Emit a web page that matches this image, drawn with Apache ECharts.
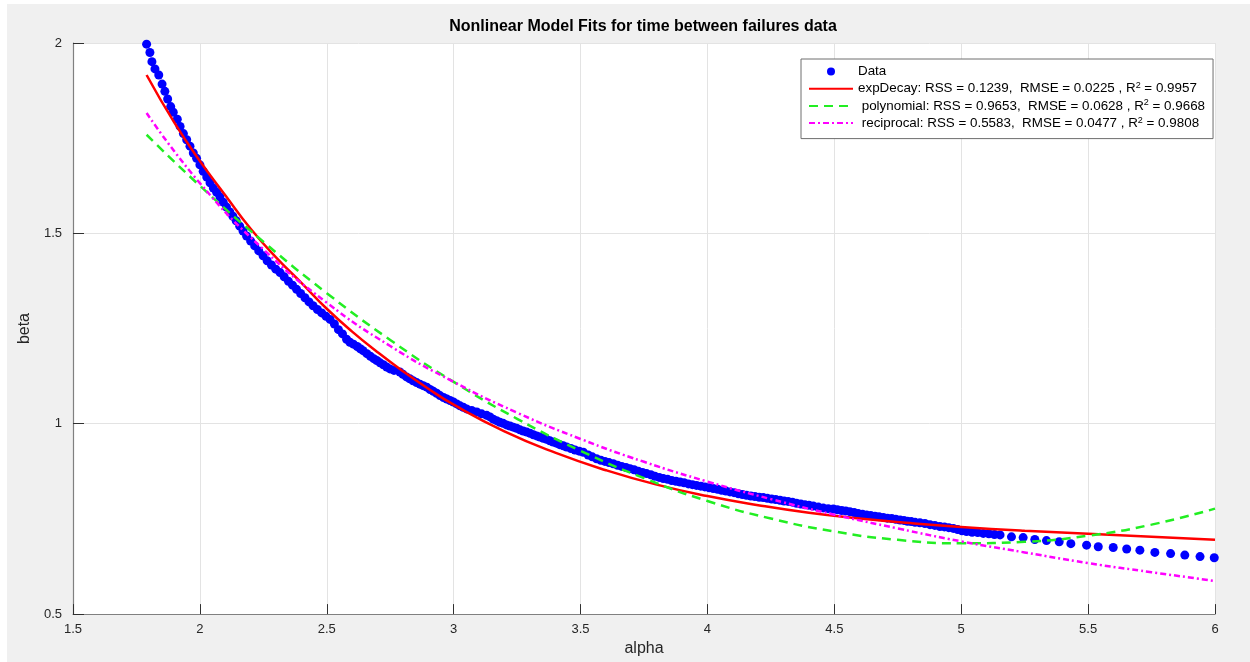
<!DOCTYPE html>
<html>
<head>
<meta charset="utf-8">
<script src="https://cdn.jsdelivr.net/npm/echarts@6/dist/echarts.min.js"></script>
<style>
html,body{margin:0;padding:0;background:#ffffff;}
#wrap{position:absolute;left:7px;top:4px;width:1243px;height:658px;background:#f0f0f0;}
#chart{width:1243px;height:658px;}
</style>
</head>
<body>
<div id="wrap"><div id="chart"></div></div>
<script>
// ---- Data ----
const titleText = 'Nonlinear Model Fits for time between failures data';
const xTickLabels = ['1.5','2','2.5','3','3.5','4','4.5','5','5.5','6'];
const yTickLabels = ['0.5','1','1.5','2'];

const dataAlpha = [
1.790,1.803,1.811,1.823,1.838,1.851,1.862,1.873,1.885,1.895,1.911,1.922,1.935,1.948,1.961,1.974,1.987,2.000,2.013,2.027,
2.040,2.053,2.066,2.079,2.092,2.105,2.118,2.130,2.143,2.157,2.170,2.184,2.200,2.216,2.232,2.249,2.265,2.282,2.299,2.316,
2.332,2.349,2.365,2.381,2.397,2.414,2.430,2.446,2.463,2.480,2.497,2.513,2.530,2.546,2.562,2.578,2.591,2.605,2.620,2.632,
2.643,2.658,2.672,2.685,2.697,2.710,2.723,2.736,2.749,2.765,2.788,2.800,2.814,2.827,2.840,2.854,2.867,2.880,2.894,2.907,
2.920,2.933,2.946,2.960,2.973,2.986,2.999,3.012,3.025,3.038,3.051,3.071,3.091,3.110,3.130,3.143,3.156,3.169,3.182,3.195,
3.208,3.222,3.235,3.248,3.261,3.274,3.288,3.301,3.314,3.327,3.340,3.353,3.366,3.379,3.392,3.405,3.418,3.432,3.445,3.462,
3.478,3.495,3.511,3.530,3.546,3.563,3.580,3.596,3.612,3.629,3.646,3.662,3.679,3.695,3.711,3.728,3.744,3.760,3.777,3.793,
3.810,3.826,3.843,3.859,3.876,3.892,3.908,3.925,3.941,3.957,3.974,3.990,4.007,4.023,4.040,4.056,4.073,4.089,4.105,4.122,
4.138,4.154,4.171,4.187,4.204,4.220,4.236,4.253,4.269,4.286,4.302,4.318,4.335,4.351,4.368,4.384,4.400,4.417,4.437,4.456,
4.476,4.496,4.512,4.529,4.545,4.561,4.578,4.594,4.611,4.627,4.643,4.660,4.676,4.693,4.709,4.726,4.742,4.759,4.774,4.788,
4.803,4.818,4.837,4.857,4.877,4.896,4.916,4.934,4.951,4.969,4.986,5.003,5.021,5.043,5.065,5.087,5.109,5.131,5.153,5.198,
5.244,5.290,5.336,5.386,5.432,5.494,5.540,5.599,5.652,5.704,5.763,5.825,5.881,5.941,5.997
];
const dataBeta = [
1.997,1.975,1.951,1.932,1.916,1.892,1.873,1.853,1.833,1.818,1.800,1.781,1.762,1.746,1.729,1.711,1.697,1.680,1.663,1.648,
1.633,1.619,1.608,1.596,1.582,1.569,1.556,1.545,1.533,1.519,1.506,1.493,1.480,1.467,1.454,1.441,1.428,1.417,1.406,1.397,
1.386,1.374,1.364,1.353,1.342,1.331,1.320,1.310,1.300,1.291,1.282,1.274,1.262,1.247,1.236,1.222,1.214,1.209,1.203,1.197,
1.192,1.184,1.177,1.171,1.166,1.160,1.155,1.149,1.144,1.140,1.136,1.130,1.123,1.118,1.113,1.108,1.104,1.100,1.096,1.090,
1.085,1.080,1.074,1.069,1.065,1.061,1.057,1.052,1.047,1.043,1.039,1.035,1.031,1.026,1.022,1.018,1.012,1.008,1.004,1.001,
0.997,0.994,0.991,0.988,0.984,0.981,0.978,0.975,0.971,0.968,0.965,0.962,0.959,0.955,0.952,0.949,0.945,0.942,0.939,0.935,
0.931,0.928,0.925,0.918,0.913,0.908,0.904,0.901,0.898,0.895,0.891,0.888,0.885,0.882,0.879,0.875,0.872,0.869,0.866,0.862,
0.859,0.856,0.854,0.851,0.849,0.847,0.845,0.842,0.840,0.838,0.836,0.834,0.832,0.830,0.828,0.825,0.823,0.821,0.819,0.816,
0.814,0.812,0.810,0.809,0.807,0.806,0.804,0.802,0.801,0.799,0.797,0.796,0.794,0.791,0.789,0.787,0.786,0.784,0.781,0.779,
0.777,0.776,0.774,0.772,0.771,0.769,0.767,0.764,0.762,0.760,0.759,0.757,0.756,0.754,0.752,0.751,0.749,0.747,0.746,0.744,
0.743,0.741,0.740,0.738,0.735,0.733,0.730,0.729,0.727,0.725,0.722,0.719,0.717,0.715,0.714,0.712,0.711,0.709,0.708,0.703,
0.701,0.696,0.693,0.690,0.685,0.681,0.677,0.675,0.671,0.668,0.662,0.659,0.655,0.651,0.648
];

const expAlpha  = [1.79,1.9,2.0,2.1,2.2,2.3,2.4,2.5,2.6,2.7,2.8,2.9,3.0,3.2,3.4,3.6,3.8,4.0,4.2,4.4,4.6,4.8,5.0,5.25,5.5,5.75,6.0];
const expBeta   = [1.916,1.790,1.690,1.600,1.512,1.437,1.370,1.302,1.242,1.188,1.138,1.092,1.050,0.980,0.924,0.878,0.840,0.810,0.786,0.766,0.751,0.739,0.729,0.719,0.711,0.703,0.695];

const polyAlpha = [1.79,2.0,2.25,2.5,2.75,3.0,3.25,3.5,3.75,4.0,4.25,4.5,4.75,5.0,5.25,5.5,5.75,6.0];
const polyBeta  = [1.759,1.625,1.478,1.343,1.220,1.110,1.013,0.929,0.857,0.797,0.751,0.717,0.695,0.686,0.690,0.706,0.735,0.777];

const recAlpha  = [1.79,2.0,2.25,2.5,2.75,3.0,3.25,3.5,3.75,4.0,4.25,4.5,4.75,5.0,5.25,5.5,5.75,6.0];
const recBeta   = [1.816,1.632,1.458,1.318,1.204,1.110,1.029,0.960,0.900,0.848,0.802,0.761,0.725,0.691,0.662,0.634,0.610,0.587];

const seriesNames = [
  'Data',
  'expDecay: RSS = 0.1239,  RMSE = 0.0225 , R^2 = 0.9957',
  ' polynomial: RSS = 0.9653,  RMSE = 0.0628 , R^2 = 0.9668',
  ' reciprocal: RSS = 0.5583,  RMSE = 0.0477 , R^2 = 0.9808'
];

function pairs(xs, ys){ return xs.map((x,i)=>[x, ys[i]]); }

const FONT = "'Liberation Sans', Arial, Helvetica, sans-serif";
const chart = echarts.init(document.getElementById('chart'), null, {renderer:'canvas'});

const hiddenSym = {color: 'rgba(0,0,0,0)', borderWidth: 0, opacity: 0};

const option = {
  animation: false,
  backgroundColor: '#f0f0f0',
  textStyle: {fontFamily: FONT},
  title: {
    text: titleText,
    left: 636, top: 15, padding: 0, textAlign: 'center',
    textStyle: {fontFamily: FONT, fontSize: 16, fontWeight: 'bold', color: '#000'}
  },
  grid: {
    left: 66, top: 39, right: 35, bottom: 46,
    show: true, backgroundColor: '#ffffff', borderWidth: 0
  },
  legend: {
    orient: 'vertical',
    left: 794, top: 55,
    padding: [6, 8, 9, 7],
    itemWidth: 44, itemHeight: 8, itemGap: 3.2,
    backgroundColor: '#ffffff',
    borderColor: '#6e6e6e', borderWidth: 1,
    data: [
      {name: seriesNames[0]},
      {name: seriesNames[1], itemStyle: hiddenSym},
      {name: seriesNames[2], itemStyle: hiddenSym},
      {name: seriesNames[3], itemStyle: hiddenSym}
    ],
    formatter: function(name){ return name.replace('R^2', 'R{sup|2}'); },
    textStyle: {
      fontFamily: FONT, fontSize: 13.4, color: '#000',
      rich: { sup: {fontFamily: FONT, fontSize: 9, color: '#000', verticalAlign: 'top', padding: [0,0,6,0]} }
    }
  },
  xAxis: {
    type: 'value', min: 1.5, max: 6, interval: 0.5,
    name: 'alpha', nameLocation: 'middle', nameGap: 26,
    nameTextStyle: {fontFamily: FONT, fontSize: 16, color: '#262626'},
    axisLine: {show: true, onZero: false, lineStyle: {color: '#808080', width: 1.2}},
    axisTick: {show: true, inside: true, length: 10, lineStyle: {color: '#303030'}},
    axisLabel: {margin: 9, fontFamily: FONT, fontSize: 13, color: '#262626',
      formatter: function(v){ const i = Math.round((v-1.5)/0.5); return xTickLabels[i] !== undefined ? xTickLabels[i] : ''; }},
    splitLine: {show: true, lineStyle: {color: '#e3e3e3', width: 1}}
  },
  yAxis: {
    type: 'value', min: 0.5, max: 2, interval: 0.5,
    name: 'beta', nameLocation: 'middle', nameGap: 21,
    nameTextStyle: {fontFamily: FONT, fontSize: 16, color: '#262626'},
    axisLine: {show: true, onZero: false, lineStyle: {color: '#808080', width: 1.2}},
    axisTick: {show: true, inside: true, length: 11, lineStyle: {color: '#303030'}},
    axisLabel: {margin: 11, fontFamily: FONT, fontSize: 13, color: '#262626',
      formatter: function(v){ const i = Math.round((v-0.5)/0.5); return yTickLabels[i] !== undefined ? yTickLabels[i] : ''; }},
    splitLine: {show: true, lineStyle: {color: '#e3e3e3', width: 1}}
  },
  series: [
    {
      name: seriesNames[0], type: 'scatter',
      data: pairs(dataAlpha, dataBeta),
      symbol: 'circle', symbolSize: 9,
      itemStyle: {color: '#0000ff', opacity: 1},
      z: 2
    },
    {
      name: seriesNames[1], type: 'line',
      data: pairs(expAlpha, expBeta),
      smooth: true, symbol: 'none', showSymbol: false,
      lineStyle: {color: '#ff0000', width: 2.5, type: 'solid'},
      itemStyle: {color: '#ff0000'},
      z: 3
    },
    {
      name: seriesNames[2], type: 'line',
      data: pairs(polyAlpha, polyBeta),
      smooth: true, symbol: 'none', showSymbol: false,
      lineStyle: {color: '#22ee22', width: 2.5, type: [9, 6]},
      itemStyle: {color: '#22ee22'},
      z: 3
    },
    {
      name: seriesNames[3], type: 'line',
      data: pairs(recAlpha, recBeta),
      smooth: true, symbol: 'none', showSymbol: false,
      lineStyle: {color: '#ff00ff', width: 2.5, type: [6, 3, 2, 3]},
      itemStyle: {color: '#ff00ff'},
      z: 3
    }
  ]
};
chart.setOption(option);
</script>
</body>
</html>
